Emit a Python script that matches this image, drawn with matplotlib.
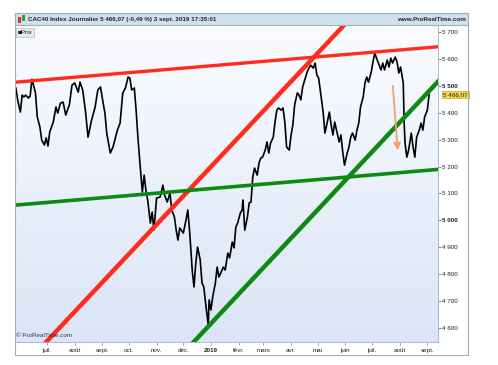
import numpy as np
import pandas as pd
import matplotlib
matplotlib.use("Agg")
import matplotlib.pyplot as plt
import matplotlib.dates as mdates
from matplotlib.patches import Rectangle
from matplotlib.colors import LinearSegmentedColormap

# CAC40 daily close
dates = [
    '2018-05-27', '2018-05-29', '2018-06-01', '2018-06-03', '2018-06-05', '2018-06-07', '2018-06-10', '2018-06-12', '2018-06-14', '2018-06-18',
    '2018-06-20', '2018-06-23', '2018-06-25', '2018-06-28', '2018-06-30', '2018-07-02', '2018-07-04', '2018-07-08', '2018-07-11', '2018-07-13',
    '2018-07-16', '2018-07-19', '2018-07-22', '2018-07-26', '2018-07-29', '2018-08-01', '2018-08-05', '2018-08-07', '2018-08-10', '2018-08-13',
    '2018-08-16', '2018-08-20', '2018-08-24', '2018-08-27', '2018-08-30', '2018-09-02', '2018-09-04', '2018-09-06', '2018-09-10', '2018-09-13',
    '2018-09-18', '2018-09-21', '2018-09-24', '2018-09-27', '2018-09-30', '2018-10-02', '2018-10-04', '2018-10-07', '2018-10-09', '2018-10-11',
    '2018-10-13', '2018-10-16', '2018-10-18', '2018-10-20', '2018-10-22', '2018-10-25', '2018-10-27', '2018-10-29', '2018-11-01', '2018-11-05',
    '2018-11-08', '2018-11-10', '2018-11-13', '2018-11-16', '2018-11-18', '2018-11-21', '2018-11-23', '2018-11-25', '2018-11-27', '2018-12-01',
    '2018-12-04', '2018-12-06', '2018-12-08', '2018-12-11', '2018-12-13', '2018-12-15', '2018-12-17', '2018-12-20', '2018-12-22', '2018-12-24',
    '2018-12-26', '2018-12-29', '2018-12-30', '2019-01-01', '2019-01-03', '2019-01-06', '2019-01-08', '2019-01-10', '2019-01-12', '2019-01-15',
    '2019-01-17', '2019-01-20', '2019-01-22', '2019-01-25', '2019-01-27', '2019-01-29', '2019-01-31', '2019-02-03', '2019-02-05', '2019-02-06',
    '2019-02-08', '2019-02-11', '2019-02-13', '2019-02-15', '2019-02-17', '2019-02-19', '2019-02-22', '2019-02-24', '2019-02-26', '2019-02-28',
    '2019-03-03', '2019-03-05', '2019-03-07', '2019-03-09', '2019-03-12', '2019-03-14', '2019-03-16', '2019-03-18', '2019-03-21', '2019-03-23',
    '2019-03-25', '2019-03-27', '2019-03-30', '2019-04-01', '2019-04-03', '2019-04-05', '2019-04-08', '2019-04-10', '2019-04-12', '2019-04-14',
    '2019-04-17', '2019-04-19', '2019-04-21', '2019-04-23', '2019-04-26', '2019-04-28', '2019-04-30', '2019-05-02', '2019-05-05', '2019-05-07',
    '2019-05-09', '2019-05-11', '2019-05-14', '2019-05-16', '2019-05-18', '2019-05-20', '2019-05-22', '2019-05-25', '2019-05-27', '2019-05-29',
    '2019-05-31', '2019-06-03', '2019-06-05', '2019-06-07', '2019-06-09', '2019-06-12', '2019-06-14', '2019-06-16', '2019-06-18', '2019-06-21',
    '2019-06-23', '2019-06-25', '2019-06-27', '2019-06-30', '2019-07-02', '2019-07-04', '2019-07-06', '2019-07-09', '2019-07-11', '2019-07-13',
    '2019-07-15', '2019-07-18', '2019-07-20', '2019-07-22', '2019-07-24', '2019-07-27', '2019-07-29', '2019-07-31', '2019-08-02', '2019-08-05',
    '2019-08-06', '2019-08-07', '2019-08-09', '2019-08-11', '2019-08-14', '2019-08-16', '2019-08-18', '2019-08-20', '2019-08-23', '2019-08-25',
    '2019-08-27', '2019-08-29', '2019-09-01', '2019-09-03',
]
close = [
    5491, 5447, 5402, 5465, 5458, 5465, 5454, 5461, 5524, 5473,
    5384, 5346, 5298, 5280, 5306, 5276, 5328, 5365, 5421, 5398,
    5435, 5439, 5391, 5428, 5502, 5510, 5476, 5513, 5484, 5409,
    5309, 5372, 5421, 5484, 5495, 5435, 5398, 5324, 5250, 5272,
    5335, 5361, 5473, 5491, 5532, 5528, 5484, 5491, 5409, 5309,
    5224, 5105, 5168, 5113, 5076, 4990, 5031, 4964, 5083, 5087,
    5131, 5094, 5068, 5102, 5039, 5013, 4964, 4927, 4972, 4953,
    5001, 5039, 4964, 4816, 4753, 4842, 4901, 4853, 4768, 4753,
    4694, 4612, 4705, 4668, 4716, 4768, 4827, 4790, 4805, 4827,
    4816, 4879, 4861, 4920, 4898, 4976, 4990, 5027, 5039, 5076,
    4964, 5013, 5065, 5068, 5161, 5194, 5168, 5213, 5231, 5235,
    5261, 5291, 5250, 5287, 5309, 5365, 5409, 5417, 5409, 5417,
    5365, 5272, 5261, 5317, 5354, 5428, 5473, 5465, 5447, 5495,
    5528, 5550, 5565, 5576, 5565, 5584, 5539, 5528, 5454, 5402,
    5324, 5354, 5402, 5354, 5317, 5365, 5335, 5291, 5317, 5254,
    5205, 5250, 5272, 5309, 5324, 5298, 5335, 5361, 5421, 5458,
    5510, 5532, 5513, 5550, 5588, 5621, 5602, 5576, 5558, 5584,
    5558, 5595, 5569, 5602, 5584, 5606, 5588, 5547, 5569, 5510,
    5361, 5287, 5235, 5261, 5324, 5272, 5235, 5309, 5335, 5361,
    5335, 5384, 5409, 5466.07,
]

# trend lines: two anchor points each
red_top_dates = ['2018-05-27', '2019-09-12']
red_top_vals = [5513, 5644]
red_up_dates = ['2018-12-20', '2019-05-03']
red_up_vals = [5157, 5628]
green_low_dates = ['2018-05-27', '2019-09-12']
green_low_vals = [5057, 5189]
green_up_dates = ['2018-12-20', '2019-09-03']
green_up_vals = [4575, 5480]

arrow_dates = ['2019-07-24', '2019-07-30']
arrow_vals = [5510, 5250]

month_ticks = pd.date_range('2018-07-01', '2019-09-01', freq='MS')
month_labels = ['juil.', 'août', 'sept.', 'oct.', 'nov.', 'déc.', '2019', 'févr.',
                'mars', 'avr.', 'mai', 'juin', 'juil.', 'août', 'sept.']
y_ticks = list(range(4600, 5701, 100))

W, H = 498, 365
def fx(px):
    return px / W
def fy(py):
    return 1 - py / H

plt.rcParams['font.family'] = ['Liberation Sans', 'DejaVu Sans']

fig = plt.figure(figsize=(W / 100, H / 100), dpi=100)
fig.patch.set_facecolor('white')

# outer frame + header bar
fig.patches.append(Rectangle((fx(15), fy(355)), 453 / W, 342 / H, transform=fig.transFigure,
                             fill=False, edgecolor='#9db2be', lw=0.8, zorder=5))
fig.patches.append(Rectangle((fx(15), fy(25)), 453 / W, 12 / H, transform=fig.transFigure,
                             facecolor='#cfe1ec', edgecolor='#9db2be', lw=0.8, zorder=4))
fig.patches.append(Rectangle((fx(17.5), fy(23)), 3 / W, 6 / H, transform=fig.transFigure,
                             facecolor='#e03020', edgecolor='none', zorder=6))
fig.patches.append(Rectangle((fx(21.5), fy(21)), 3 / W, 6 / H, transform=fig.transFigure,
                             facecolor='#30a030', edgecolor='none', zorder=6))
fig.text(fx(28), fy(19.3), 'CAC40 Index Journalier 5 466,07 (-0,49 %) 3 sept. 2019 17:35:01',
         fontsize=4.5, weight='bold', va='center', color='#222222', zorder=7)
fig.text(fx(466), fy(19.3), 'www.ProRealTime.com', fontsize=4.5, weight='bold',
         va='center', ha='right', color='#222222', zorder=7)

ax = fig.add_axes([fx(15), fy(342), (438 - 15) / W, (342 - 25) / H])

x = pd.to_datetime(dates)
xmin, xmax = pd.Timestamp('2018-05-26'), pd.Timestamp('2019-09-13')

# gradient background
bg = LinearSegmentedColormap.from_list('bg', ['#dbe5f6', '#fbfcff'])
ax.imshow(np.linspace(0, 1, 256).reshape(-1, 1), cmap=bg, origin='lower',
          extent=[0, 1, 0, 1], transform=ax.transAxes, aspect='auto', zorder=0)

ax.plot(x, close, color='black', lw=1.2, zorder=3)

def trend(d, v, color, lw):
    t = mdates.date2num(pd.to_datetime(d))
    k = (v[1] - v[0]) / (t[1] - t[0])
    t0, t1 = mdates.date2num(xmin) - 30, mdates.date2num(xmax) + 30
    ax.plot([mdates.num2date(t0), mdates.num2date(t1)],
            [v[0] + k * (t0 - t[0]), v[0] + k * (t1 - t[0])],
            color=color, lw=lw, solid_capstyle='butt', zorder=4)

trend(red_top_dates, red_top_vals, '#ff2b1c', 2.4)
trend(red_up_dates, red_up_vals, '#ff2b1c', 3.2)
trend(green_low_dates, green_low_vals, '#0c8a12', 2.6)
trend(green_up_dates, green_up_vals, '#0c8a12', 3.2)

ax.annotate('', xy=(pd.Timestamp(arrow_dates[1]), arrow_vals[1]),
            xytext=(pd.Timestamp(arrow_dates[0]), arrow_vals[0]),
            arrowprops=dict(arrowstyle='-|>', color='#f4a06c', lw=1.3, mutation_scale=10),
            zorder=5)

ax.set_xlim(xmin, xmax)
ax.set_ylim(4549, 5725)

ax.yaxis.tick_right()
ax.set_yticks(y_ticks)
ax.set_yticklabels([f'{v:,}'.replace(',', ' ') for v in y_ticks])
for lab, v in zip(ax.get_yticklabels(), y_ticks):
    if v in (5000, 5500):
        lab.set_fontweight('bold')
        lab.set_fontsize(5)
ax.tick_params(axis='y', length=2, width=0.5, pad=1, labelsize=4.5, colors='#555555',
               labelcolor='#222222')

ax.set_xticks(month_ticks)
ax.set_xticklabels(month_labels)
for lab in ax.get_xticklabels():
    if lab.get_text() == '2019':
        lab.set_fontweight('bold')
        lab.set_fontsize(5.5)
ax.tick_params(axis='x', length=2, width=0.5, pad=2, labelsize=4.5, colors='#777777',
               labelcolor='#222222')

for s in ax.spines.values():
    s.set_color('#9db2be')
    s.set_linewidth(0.6)

# last price marker
ax.text(1.012, 5466.07, '5 466,07', transform=ax.get_yaxis_transform(), fontsize=4.5,
        va='center', ha='left', color='#222222',
        bbox=dict(boxstyle='square,pad=0.15', facecolor='#f5d84a', edgecolor='#c9a42a', lw=0.5))

# legend box
ax.text(0.006, 0.985, '\u25a0Prix', transform=ax.transAxes, fontsize=4.6, va='top', ha='left',
        color='#111111', zorder=6,
        bbox=dict(boxstyle='square,pad=0.3', facecolor='#e6e9ee', edgecolor='#b8bec6', lw=0.5))

ax.text(0.003, 0.012, '\u00a9 ProRealTime.com', transform=ax.transAxes, fontsize=4.5,
        va='bottom', ha='left', color='#333333', zorder=6)

plt.savefig('out.png', dpi=100)
